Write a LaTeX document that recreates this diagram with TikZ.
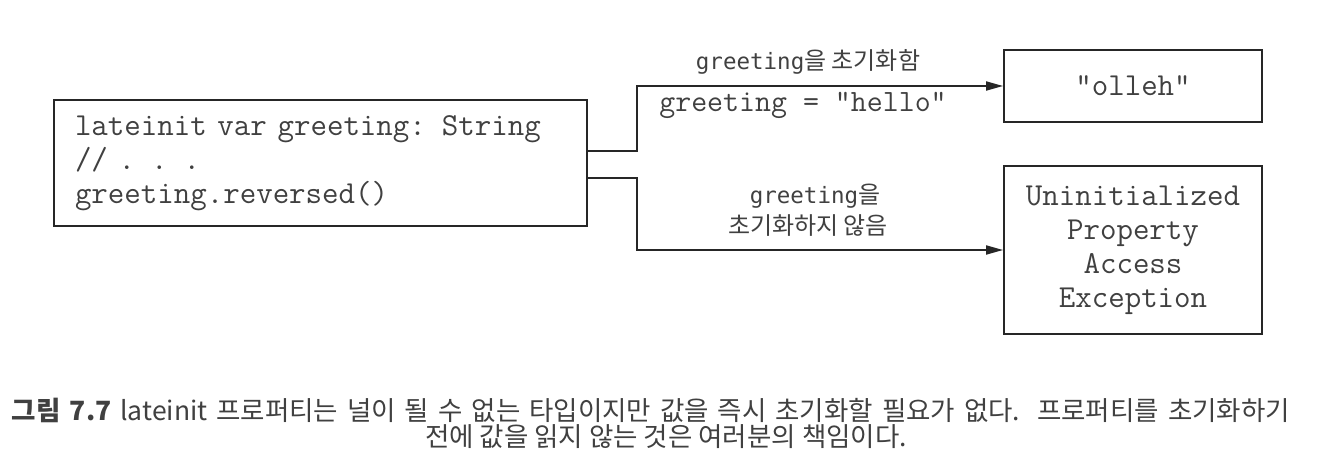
\documentclass[tikz,border=0pt]{standalone}
\usepackage{fontspec}
\newfontfamily\kr{Noto Sans CJK KR}
\newfontfamily\lblmono{DejaVu Sans Mono}
\usetikzlibrary{arrows.meta}
\definecolor{ink}{HTML}{404040}
\definecolor{linec}{HTML}{262626}
\begin{document}
\begin{tikzpicture}[x=1pt,y=-1pt,
  box/.style={draw=linec, line width=1.8pt, text=ink, inner sep=0pt},
  code/.style={font=\fontsize{32}{34}\selectfont\ttfamily},
  lbl/.style={text=ink, inner sep=0pt, font=\fontsize{24}{30}\selectfont\kr},
  arr/.style={draw=linec, line width=1.8pt, -{Triangle[length=17pt,width=9pt]}},
  captext/.style={text=ink, inner sep=0pt, font=\fontsize{26.5}{30}\selectfont\kr}]
\useasboundingbox (0,0) rectangle (1332,476);
\node[box, code, minimum width=533pt, minimum height=126pt, anchor=center, align=left, text width=491pt] (main) at (320.5,163)
  {lateinit var greeting: String\\// . . .\\greeting.reversed()};
\node[box, code, minimum width=258pt, minimum height=72pt] (top) at (1133,86) {"olleh"};
\node[box, code, minimum width=258pt, minimum height=168pt, align=center] (bot) at (1133,250)
  {Uninitialized\\Property\\Access\\Exception};
\coordinate (j1) at (637,151);
\coordinate (j2) at (637,178);
\draw[arr] (main.east |- j1) -- (j1) |- (top.west);
\draw[arr] (main.east |- j2) -- (j2) |- (bot.west);
\node[lbl] (l1) at (808,62) {{\lblmono\fontsize{22.5}{30}\selectfont greeting}을 초기화함};
\node[text=ink, inner sep=0pt, font=\fontsize{31}{34}\selectfont\ttfamily] (l2) at (803,105) {greeting = "hello"};
\node[lbl] (l3) at (815,196) {{\lblmono\fontsize{22.5}{30}\selectfont greeting}을};
\node[lbl] (l4) at (808,226) {초기화하지 않음};
\node[captext] (c1) at (651,410) {\makebox[1278pt][s]{{\bfseries 그림 7.7} lateinit 프로퍼티는 널이 될 수 없는 타입이지만 값을 즉시 초기화할 필요가 없다. 프로퍼티를 초기화하기}};
\node[captext] (c2) at (666,437) {전에 값을 읽지 않는 것은 여러분의 책임이다.};
\end{tikzpicture}
\end{document}
